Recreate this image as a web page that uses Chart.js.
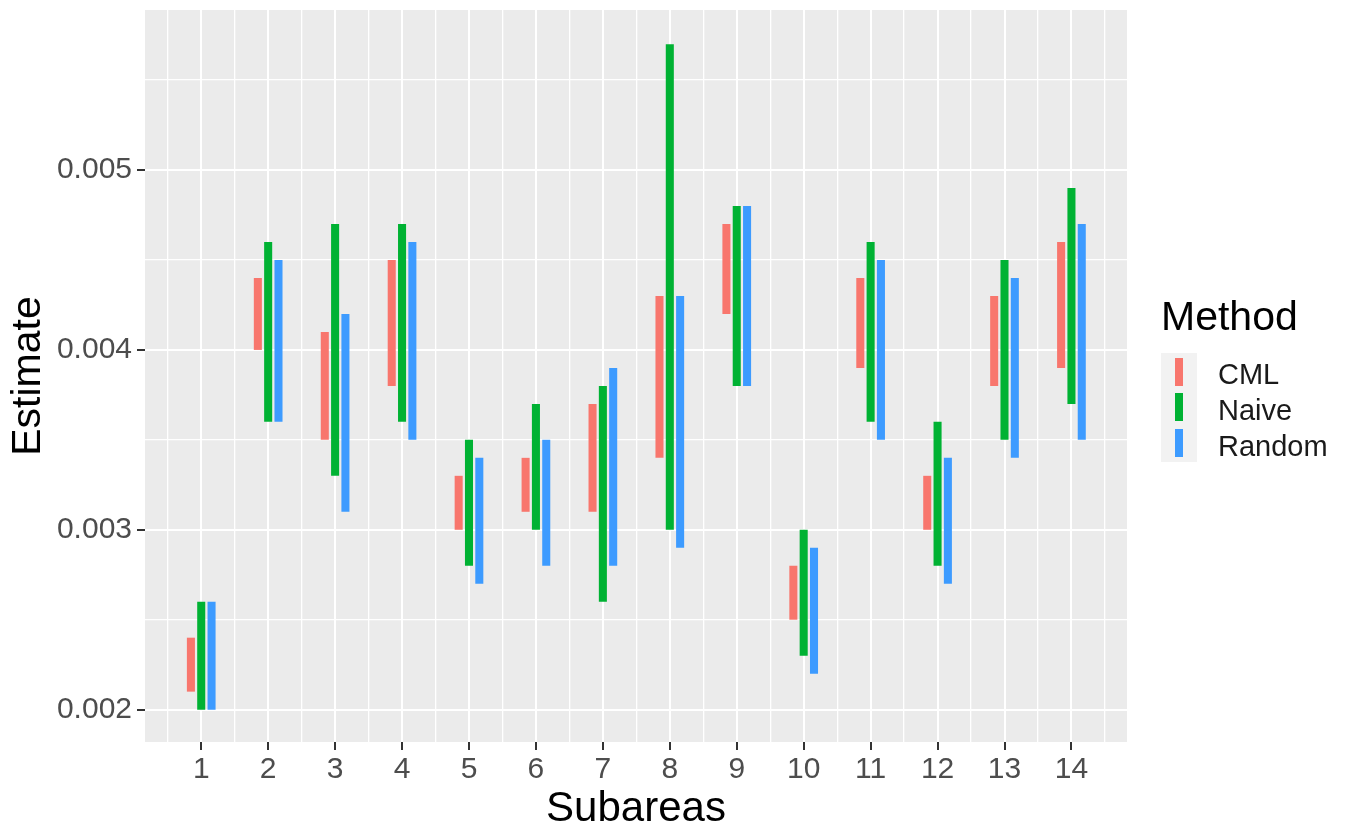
<!DOCTYPE html>
<html>
<head>
<meta charset="utf-8">
<script src="https://cdn.jsdelivr.net/npm/chart.js@4"></script>
<style>
  html, body { margin: 0; padding: 0; background: #fff; }
  #wrap { width: 1347px; height: 827px; }
</style>
</head>
<body>
<div id="wrap"><canvas id="chartRange" width="1347" height="827"></canvas></div>
<script>
// subareas and estimate intervals per method
var subareas = ['1','2','3','4','5','6','7','8','9','10','11','12','13','14'];
var methods = ['CML', 'Naive', 'Random'];
var colors = ['#F8766D', '#00B233', '#3D9BFF'];

var cmlLow     = [0.0021, 0.0040, 0.0035, 0.0038, 0.0030, 0.0031, 0.0031, 0.0034, 0.0042, 0.0025, 0.0039, 0.0030, 0.0038, 0.0039];
var cmlHigh    = [0.0024, 0.0044, 0.0041, 0.0045, 0.0033, 0.0034, 0.0037, 0.0043, 0.0047, 0.0028, 0.0044, 0.0033, 0.0043, 0.0046];
var naiveLow   = [0.0020, 0.0036, 0.0033, 0.0036, 0.0028, 0.0030, 0.0026, 0.0030, 0.0038, 0.0023, 0.0036, 0.0028, 0.0035, 0.0037];
var naiveHigh  = [0.0026, 0.0046, 0.0047, 0.0047, 0.0035, 0.0037, 0.0038, 0.0057, 0.0048, 0.0030, 0.0046, 0.0036, 0.0045, 0.0049];
var randomLow  = [0.0020, 0.0036, 0.0031, 0.0035, 0.0027, 0.0028, 0.0028, 0.0029, 0.0038, 0.0022, 0.0035, 0.0027, 0.0034, 0.0035];
var randomHigh = [0.0026, 0.0045, 0.0042, 0.0046, 0.0034, 0.0035, 0.0039, 0.0043, 0.0048, 0.0029, 0.0045, 0.0034, 0.0044, 0.0047];

var yTicks = [0.002, 0.003, 0.004, 0.005];

function pairs(lo, hi) {
  return lo.map(function (v, i) { return [v, hi[i]]; });
}

var lows = [cmlLow, naiveLow, randomLow];
var highs = [cmlHigh, naiveHigh, randomHigh];

function isMajor(v) {
  return Math.abs(v - Math.round(v)) < 1e-6;
}
function tickVal(c, k) {
  return c && c.tick ? c.tick.value * k : 0.5;
}

// grey panel like ggplot
var panelBg = {
  id: 'panelBg',
  beforeDraw: function (chart) {
    var a = chart.chartArea, ctx = chart.ctx;
    ctx.save();
    ctx.fillStyle = '#EBEBEB';
    ctx.fillRect(a.left, a.top, a.right - a.left, a.bottom - a.top);
    ctx.restore();
  }
};

// legend on the right: title, grey key box, vertical bar keys
var sideLegend = {
  id: 'sideLegend',
  afterDraw: function (chart) {
    var ctx = chart.ctx;
    ctx.save();
    ctx.fillStyle = '#000';
    ctx.textBaseline = 'alphabetic';
    ctx.textAlign = 'left';
    ctx.font = '41px "Liberation Sans", Arial, sans-serif';
    ctx.fillText('Method', 1161, 330);

    ctx.fillStyle = '#F2F2F2';
    ctx.fillRect(1161, 353, 36, 109);

    ctx.font = '29px "Liberation Sans", Arial, sans-serif';
    var rowTop = [358, 393, 429];
    var base = [384, 420, 456];
    methods.forEach(function (m, i) {
      ctx.fillStyle = colors[i];
      ctx.fillRect(1175, rowTop[i], 8, 28);
      ctx.fillStyle = '#1a1a1a';
      ctx.fillText(m, 1218, base[i]);
    });
    ctx.restore();
  }
};

var graph = document.getElementById('chartRange');

var chartRange = new Chart(graph, {
  type: 'bar',
  data: {
    labels: subareas,
    datasets: methods.map(function (m, i) {
      return {
        label: m,
        data: pairs(lows[i], highs[i]),
        backgroundColor: colors[i],
        borderWidth: 0,
        // ruler step is the half-unit tick spacing
        categoryPercentage: 0.925,
        barPercentage: 0.78
      };
    })
  },
  options: {
    responsive: false,
    animation: false,
    events: [],
    layout: { padding: { left: 0, top: 10, right: 220, bottom: 0 } },
    plugins: {
      legend: { display: false },
      tooltip: { enabled: false }
    },
    scales: {
      x: {
        type: 'linear',
        min: 0.16,
        max: 14.83,
        offset: false,
        afterFit: function (s) { s.height = 85; s.paddingLeft = 0; s.paddingRight = 0; },
        border: { display: false },
        grid: {
          offset: false,
          color: '#FFFFFF',
          lineWidth: function (c) { return isMajor(tickVal(c, 1)) ? 2 : 1.3; },
          tickColor: function (c) { return isMajor(tickVal(c, 1)) ? '#333333' : 'rgba(0,0,0,0)'; },
          tickWidth: 2,
          tickLength: 8
        },
        ticks: {
          stepSize: 0.5,
          includeBounds: false,
          autoSkip: false,
          maxRotation: 0,
          padding: 2,
          color: '#4D4D4D',
          font: { family: '"Liberation Sans", Arial, sans-serif', size: 30 },
          callback: function (v) { return isMajor(v) ? String(Math.round(v)) : ''; }
        },
        title: {
          display: true,
          text: 'Subareas',
          color: '#000',
          padding: { top: 0, bottom: 0 },
          font: { family: '"Liberation Sans", Arial, sans-serif', size: 42, lineHeight: 0.85 }
        }
      },
      y: {
        min: 0.00182,
        max: 0.00589,
        afterFit: function (s) { s.width = 145; s.paddingTop = 0; s.paddingBottom = 0; },
        border: { display: false },
        grid: {
          color: '#FFFFFF',
          lineWidth: function (c) { return isMajor(tickVal(c, 1000)) ? 2 : 1.3; },
          tickColor: function (c) { return isMajor(tickVal(c, 1000)) ? '#333333' : 'rgba(0,0,0,0)'; },
          tickWidth: 2,
          tickLength: 8
        },
        ticks: {
          stepSize: 0.0005,
          includeBounds: false,
          autoSkip: false,
          padding: 5,
          color: '#4D4D4D',
          font: { family: '"Liberation Sans", Arial, sans-serif', size: 30 },
          callback: function (v) {
            var hit = yTicks.filter(function (t) { return Math.abs(t - v) < 1e-7; });
            return hit.length ? hit[0].toFixed(3) : '';
          }
        },
        title: {
          display: true,
          text: 'Estimate',
          color: '#000',
          padding: { top: 4, bottom: 0 },
          font: { family: '"Liberation Sans", Arial, sans-serif', size: 41, lineHeight: 1.2 }
        }
      }
    }
  },
  plugins: [panelBg, sideLegend]
});
</script>
</body>
</html>
